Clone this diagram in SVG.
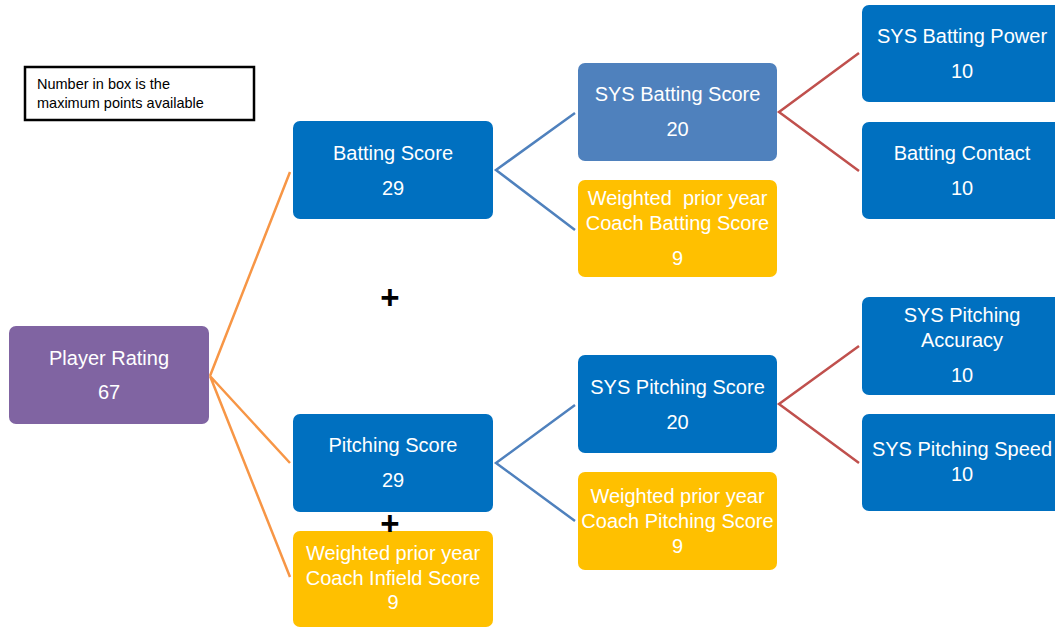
<svg xmlns="http://www.w3.org/2000/svg" width="1055" height="628" viewBox="0 0 1055 628">
<style>
.t{font-family:"Liberation Sans",Arial,sans-serif;font-size:20px;fill:#ffffff;text-anchor:middle;white-space:pre}
.lg{font-family:"Liberation Sans",Arial,sans-serif;font-size:14.5px;fill:#000000}
.blue{fill:#0070c0}
.lblue{fill:#4f81bd}
.yel{fill:#ffc000}
.pur{fill:#8064a2}
.or{stroke:#f79646;stroke-width:2.5;fill:none}
.bl{stroke:#4f81bd;stroke-width:2.5;fill:none}
.rd{stroke:#c0504d;stroke-width:2.5;fill:none}
.plus{font-family:"Liberation Sans",Arial,sans-serif;font-size:33px;font-weight:bold;fill:#000;text-anchor:middle}
</style>
<rect width="1055" height="628" fill="#ffffff"/>
<g id="connectors">
<path class="or" d="M210,376 L290,172 M210,376 L290,463 M210,376 L290,577"/>
<path class="bl" d="M575,113 L496,170 L575,230 M575,405 L496,463 L575,521"/>
<path class="rd" d="M859,53 L779,112 L859,171 M859,346 L779,404 L859,463"/>
</g>
<g id="legend">
<rect x="25" y="67" width="229" height="53" fill="#ffffff" stroke="#000" stroke-width="2.5"/>
<text class="lg" x="37" y="89">Number in box is the</text>
<text class="lg" x="37" y="108">maximum points available</text>
</g>
<g id="player-rating">
<rect class="pur" x="9" y="326" width="200" height="98" rx="7"/>
<text class="t" x="109" y="365">Player Rating</text>
<text class="t" x="109" y="399">67</text>
</g>
<g id="batting-score">
<rect class="blue" x="293" y="121" width="200" height="98" rx="7"/>
<text class="t" x="393" y="160">Batting Score</text>
<text class="t" x="393" y="195">29</text>
</g>
<g id="pitching-score">
<rect class="blue" x="293" y="414" width="200" height="98" rx="7"/>
<text class="t" x="393" y="452">Pitching Score</text>
<text class="t" x="393" y="487">29</text>
</g>
<g id="coach-infield">
<rect class="yel" x="293" y="531" width="200" height="96" rx="7"/>
<text class="t" x="393" y="560">Weighted prior year</text>
<text class="t" x="393" y="585">Coach Infield Score</text>
<text class="t" x="393" y="609">9</text>
</g>
<g id="sys-batting-score">
<rect class="lblue" x="578" y="63" width="199" height="98" rx="7"/>
<text class="t" x="677.5" y="101">SYS Batting Score</text>
<text class="t" x="677.5" y="136">20</text>
</g>
<g id="coach-batting">
<rect class="yel" x="578" y="180" width="199" height="97" rx="7"/>
<text class="t" x="677.5" y="205">Weighted  prior year</text>
<text class="t" x="677.5" y="230">Coach Batting Score</text>
<text class="t" x="677.5" y="265">9</text>
</g>
<g id="sys-pitching-score">
<rect class="blue" x="578" y="355" width="199" height="98" rx="7"/>
<text class="t" x="677.5" y="394">SYS Pitching Score</text>
<text class="t" x="677.5" y="429">20</text>
</g>
<g id="coach-pitching">
<rect class="yel" x="578" y="472" width="199" height="98" rx="7"/>
<text class="t" x="677.5" y="503">Weighted prior year</text>
<text class="t" x="677.5" y="528">Coach Pitching Score</text>
<text class="t" x="677.5" y="553">9</text>
</g>
<g id="sys-batting-power">
<rect class="blue" x="862" y="5" width="200" height="97" rx="7"/>
<text class="t" x="962" y="43">SYS Batting Power</text>
<text class="t" x="962" y="78">10</text>
</g>
<g id="batting-contact">
<rect class="blue" x="862" y="122" width="200" height="97" rx="7"/>
<text class="t" x="962" y="160">Batting Contact</text>
<text class="t" x="962" y="195">10</text>
</g>
<g id="sys-pitching-accuracy">
<rect class="blue" x="862" y="297" width="200" height="98" rx="7"/>
<text class="t" x="962" y="322">SYS Pitching</text>
<text class="t" x="962" y="347">Accuracy</text>
<text class="t" x="962" y="382">10</text>
</g>
<g id="sys-pitching-speed">
<rect class="blue" x="862" y="414" width="200" height="97" rx="7"/>
<text class="t" x="962" y="456">SYS Pitching Speed</text>
<text class="t" x="962" y="481">10</text>
</g>
<g id="plus-signs">
<text class="plus" x="390" y="309">+</text>
<text class="plus" x="390" y="535">+</text>
</g>
</svg>
